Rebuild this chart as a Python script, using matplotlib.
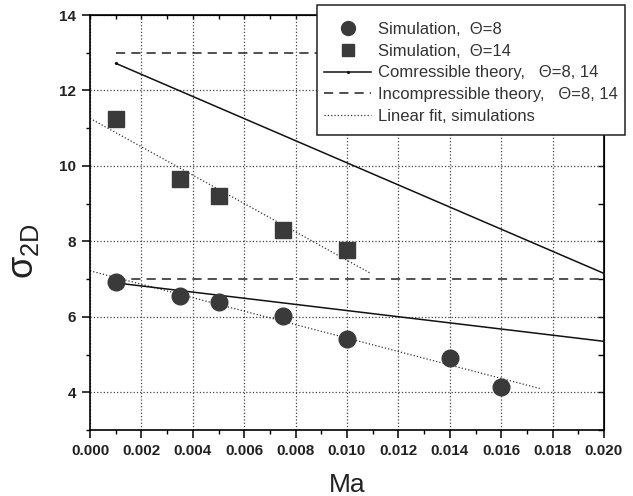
import matplotlib
matplotlib.use('Agg')
import matplotlib.pyplot as plt
from matplotlib.patches import Rectangle
from matplotlib.ticker import MultipleLocator, FormatStrFormatter

plt.rcParams['font.family'] = ['Liberation Sans', 'DejaVu Sans']
plt.rcParams['mathtext.fontset'] = 'custom'
plt.rcParams['mathtext.rm'] = 'Liberation Sans'

# simulation points
ma8 = [0.001, 0.0035, 0.005, 0.0075, 0.010, 0.014, 0.016]
sigma8 = [6.93, 6.55, 6.38, 6.02, 5.42, 4.91, 4.15]
ma14 = [0.001, 0.0035, 0.005, 0.0075, 0.010]
sigma14 = [11.24, 9.64, 9.20, 8.31, 7.76]

# compressible theory (end points)
theory_ma = [0.001, 0.020]
comp8 = [6.90, 5.35]
comp14 = [12.72, 7.15]
# incompressible theory
incomp8 = [7.0, 7.0]
incomp14 = [13.0, 13.0]

# linear fits of the simulations (end points)
fit8_ma = [0.0, 0.0175]
fit8 = [7.22, 4.10]
fit14_ma = [0.0, 0.0109]
fit14 = [11.26, 7.16]

fig = plt.figure(figsize=(6.33, 4.96), dpi=100)
ax = fig.add_axes([90/633, 1-430/496, (604-90)/633, (430-15)/496])

ax.plot(fit8_ma, fit8, ':', color='#333333', lw=0.9, label='Linear fit, simulations', zorder=2)
ax.plot(fit14_ma, fit14, ':', color='#333333', lw=0.9, zorder=2)
ax.plot(theory_ma, incomp8, color='#222222', lw=1.1, dashes=(6, 4),
        label='Incompressible theory,   Θ=8, 14', zorder=3)
ax.plot(theory_ma, incomp14, color='#222222', lw=1.1, dashes=(6, 4), zorder=3)
ax.plot(theory_ma, comp8, '-', color='#111111', lw=1.1, marker='.', ms=2.5,
        label='Comressible theory,   Θ=8, 14', zorder=3)
ax.plot(theory_ma, comp14, '-', color='#111111', lw=1.1, marker='.', ms=2.5, zorder=3)
ax.plot(ma14, sigma14, 's', color='#3a3a3a', ms=11, mec='#3a3a3a',
        label='Simulation,  Θ=14', zorder=4)
ax.plot(ma8, sigma8, 'o', color='#3a3a3a', ms=12, mec='#3a3a3a',
        label='Simulation,  Θ=8', zorder=4)

ax.set_xlim(0, 0.020)
ax.set_ylim(3, 14)
ax.xaxis.set_major_locator(MultipleLocator(0.002))
ax.xaxis.set_minor_locator(MultipleLocator(0.001))
ax.yaxis.set_major_locator(MultipleLocator(2))
ax.yaxis.set_minor_locator(MultipleLocator(1))
ax.xaxis.set_major_formatter(FormatStrFormatter('%.3f'))
ax.grid(True, which='major', linestyle=':', color='#444444', lw=0.9)

for s in ax.spines.values():
    s.set_linewidth(1.2)
ax.tick_params(which='major', direction='out', length=6, width=1.1,
               labelsize=11, labelcolor='#222222', pad=4)
ax.tick_params(which='minor', direction='out', length=3, width=1.0)
for lab in ax.get_xticklabels() + ax.get_yticklabels():
    lab.set_fontweight('bold')

top = ax.secondary_xaxis('top')
top.xaxis.set_major_locator(MultipleLocator(0.001))
top.tick_params(direction='in', length=3, width=1.0, labeltop=False)
right = ax.secondary_yaxis('right')
right.yaxis.set_major_locator(MultipleLocator(1))
right.tick_params(direction='in', length=4, width=1.0, labelright=False)

ax.set_xlabel('Ma', fontsize=19, color='#222222', labelpad=11)
ax.set_ylabel(r'$\mathregular{\sigma_{2D}}$', fontsize=26, color='#222222')
ax.yaxis.set_label_coords(-0.095, 0.43)

# legend box drawn separately so its padding matches the original
box_l, box_r, box_t, box_b = 317, 625, 5, 135
fig.patches.append(Rectangle((box_l/633, 1-box_b/496), (box_r-box_l)/633,
                             (box_b-box_t)/496, transform=fig.transFigure,
                             facecolor='white', edgecolor='#222222', lw=1.1,
                             zorder=5))

handles, labels = ax.get_legend_handles_labels()
order = [4, 3, 2, 1, 0]
leg = fig.legend([handles[i] for i in order], [labels[i] for i in order],
                 loc='center', bbox_to_anchor=((box_l+box_r)/2/633, 1-(box_t+box_b+6)/2/496),
                 borderaxespad=0, fontsize=12, labelspacing=0.4, handlelength=2.8,
                 handletextpad=0.4, borderpad=0.2, numpoints=1,
                 frameon=False, labelcolor='#333333')
leg.set_zorder(6)
leg.legend_handles[0].set_markersize(10)
leg.legend_handles[1].set_markersize(9)

fig.savefig('out.png', dpi=100)
